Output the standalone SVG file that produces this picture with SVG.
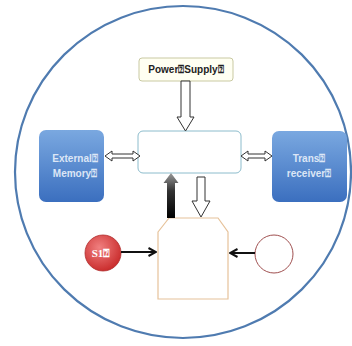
<svg xmlns="http://www.w3.org/2000/svg" width="352" height="346" viewBox="0 0 352 346">
<defs>
<linearGradient id="blue" x1="0" y1="0" x2="0" y2="1">
<stop offset="0" stop-color="#7aa8e0"/>
<stop offset="1" stop-color="#3b6fbf"/>
</linearGradient>
<radialGradient id="red" cx="0.4" cy="0.35" r="0.7">
<stop offset="0" stop-color="#f08080"/>
<stop offset="1" stop-color="#c82828"/>
</radialGradient>
<linearGradient id="dark" x1="0" y1="1" x2="0" y2="0">
<stop offset="0" stop-color="#000"/>
<stop offset="0.6" stop-color="#333"/>
<stop offset="1" stop-color="#999"/>
</linearGradient>
<marker id="ah" viewBox="0 0 10 10" refX="9" refY="5" markerWidth="5" markerHeight="5" orient="auto">
<path d="M1.5,1 L9,5 L1.5,9" fill="none" stroke="#111" stroke-width="2"/>
</marker>
<style>
.lbl{font-family:"Liberation Sans",Arial,sans-serif;font-weight:bold;font-size:10px;text-anchor:middle}
.wt{fill:#dce6f6}
.hollow{fill:#fff;stroke:#333;stroke-width:1}
.conn{stroke:#111;stroke-width:2;fill:none}
</style>
</defs>
<ellipse cx="183" cy="172" rx="168" ry="166" fill="#fff" stroke="#4f7bb0" stroke-width="2.2"/>
<g id="power">
<rect x="139" y="58" width="94" height="23" rx="3" fill="#fffff2" stroke="#c9c9a2" stroke-width="1"/>
<text class="lbl" x="186" y="73" fill="#222" font-size="9.5">Power⍰Supply⍰</text>
</g>
<g id="core">
<rect x="138" y="131" width="103" height="42" rx="5" fill="#fff" stroke="#8cbccc" stroke-width="1"/>
</g>
<g id="extmem">
<rect x="39" y="130" width="65" height="72" rx="7" fill="url(#blue)"/>
<text class="lbl wt" x="75" y="162">External⍰</text>
<text class="lbl wt" x="75" y="177">Memory⍰</text>
</g>
<g id="trans">
<rect x="272" y="131" width="75" height="71" rx="7" fill="url(#blue)"/>
<text class="lbl wt" x="309" y="162">Trans⍰</text>
<text class="lbl wt" x="309" y="177">receiver⍰</text>
</g>
<g id="bottom">
<path d="M158,232 L169,218 L218,218 L228,232 L228,299 L158,299 Z" fill="#fff" stroke="#e6c29a" stroke-width="1.2"/>
</g>
<g id="s1">
<circle cx="103" cy="253" r="18" fill="url(#red)" stroke="#b03030" stroke-width="0.8"/>
<text x="101" y="257" font-family="Liberation Serif,serif" font-weight="bold" font-size="11" fill="#fff" text-anchor="middle">S1⍰</text>
</g>
<g id="sensor">
<circle cx="274" cy="254" r="19" fill="#fff" stroke="#a05050" stroke-width="1"/>
</g>
<g id="connectors">
<path class="hollow" d="M181,81 L190,81 L190,117 L194,117 L185.5,131 L177,117 L181,117 Z"/>
<path class="hollow" d="M105,156 L112,151 L112,154 L133,154 L133,151 L140,156 L133,161 L133,158 L112,158 L112,161 Z"/>
<path class="hollow" d="M241,156 L248,151 L248,154 L265,154 L265,151 L272,156 L265,161 L265,158 L248,158 L248,161 Z"/>
<path d="M167,218 L175,218 L175,183 L178.5,183 L171,173 L163.5,183 L167,183 Z" fill="url(#dark)"/>
<path class="hollow" d="M197,177 L205,177 L205,201 L210,201 L201,217 L192,201 L197,201 Z"/>
<line class="conn" x1="121" y1="252" x2="156" y2="252" marker-end="url(#ah)"/>
<line class="conn" x1="255" y1="253" x2="230" y2="253" marker-end="url(#ah)"/>
</g>
</svg>
